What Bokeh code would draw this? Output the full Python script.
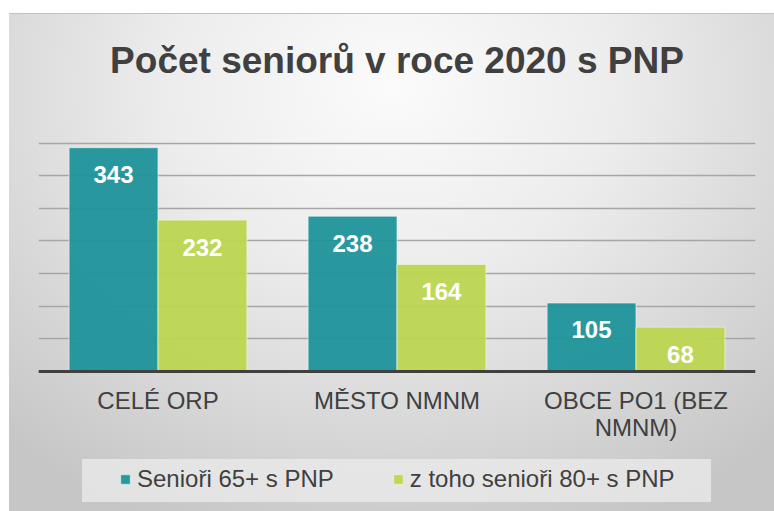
from bokeh.plotting import figure
from bokeh.models import (ColumnDataSource, LabelSet, Legend, LegendItem, FixedTicker,
                          Span, Range1d)
from bokeh.core.properties import value
from bokeh.transform import dodge
from bokeh.embed import file_html
from bokeh.resources import INLINE

categories = ["CELÉ ORP", "MĚSTO NMNM", "OBCE PO1 (BEZ\nNMNM)"]
seniors65 = [343, 238, 105]
seniors80 = [232, 164, 68]
series_names = ["Senioři 65+ s PNP", "z toho senioři 80+ s PNP"]
grid_ticks = [0, 50, 100, 150, 200, 250, 300, 350, 400]

TEAL = "#1f939a"
LIME = "#bcd650"
TXT = "#404040"
FONT = "Liberation Sans"

line1 = [c.split("\n")[0] for c in categories]
line2 = [c.split("\n")[1] if "\n" in c else "" for c in categories]

src = ColumnDataSource(dict(cat=categories, s65=seniors65, s80=seniors80,
                            base=[0] * len(categories), line1=line1, line2=line2,
                            l65=[str(v) for v in seniors65], l80=[str(v) for v in seniors80]))

p = figure(width=774, height=511, x_range=categories, y_range=Range1d(-207, 400),
           output_backend="svg", toolbar_location=None,
           x_axis_location=None, y_axis_location=None,
           min_border_left=38, min_border_right=19, min_border_top=110, min_border_bottom=5,
           title="Počet seniorů v roce 2020 s PNP")

p.border_fill_alpha = 0
p.background_fill_alpha = 0
p.outline_line_color = None
p.styles = {
    "background": ("linear-gradient(#c2c2c2, #c2c2c2) 9px 13px / 765px 1px no-repeat, "
                   "linear-gradient(rgba(236,236,236,0.75), rgba(236,236,236,0.75)) 82px 459px / 629px 43px no-repeat, "
                   "radial-gradient(ellipse 75% 95% at 50% 15%, #fbfbfb 0%, #ececec 40%, "
                   "#d6d6d6 75%, #c6c6c6 100%) 9px 13px / 765px 498px no-repeat, #ffffff")
}

p.title.align = "center"
p.title.text_font = FONT
p.title.text_font_style = "bold"
p.title.text_font_size = "37px"
p.title.text_color = TXT
p.title.standoff = 60

r1 = p.vbar(x=dodge("cat", -0.186, range=p.x_range), top="s65", width=0.372, source=src,
            fill_color=TEAL, fill_alpha=0.95, line_color="#e6f2f2", line_alpha=0.7, line_width=1)
r2 = p.vbar(x=dodge("cat", 0.186, range=p.x_range), top="s80", width=0.372, source=src,
            fill_color=LIME, fill_alpha=0.95, line_color="#f0f6e0", line_alpha=0.7, line_width=1)

for field, top, off in (("l65", "s65", -0.186), ("l80", "s80", 0.186)):
    p.add_layout(LabelSet(x=dodge("cat", off, range=p.x_range), y=top, text=field, source=src,
                          y_offset=-27, text_align="center", text_baseline="middle",
                          text_color="white", text_font=value(FONT), text_font_style="bold",
                          text_font_size="24px"))

# category labels under the baseline (two centred lines)
for field, yoff in (("line1", -16), ("line2", -43)):
    p.add_layout(LabelSet(x="cat", y="base", text=field, source=src, y_offset=yoff,
                          text_align="center", text_baseline="top", text_color=TXT,
                          text_font=value(FONT), text_font_size="24px"))

p.xgrid.grid_line_color = None
p.ygrid.ticker = FixedTicker(ticks=grid_ticks)
p.ygrid.grid_line_color = "#a6a6a6"
p.ygrid.grid_line_width = 1.3

p.add_layout(Span(location=0, dimension="width", line_color=TXT, line_width=3))
p.x_range.range_padding = 0

legend = Legend(items=[LegendItem(label=series_names[0], renderers=[r1]),
                       LegendItem(label=series_names[1], renderers=[r2])],
                orientation="horizontal", location=(81, 13),
                label_text_font=FONT, label_text_font_size="24px", label_text_color=TXT,
                glyph_width=12, glyph_height=12, label_standoff=6, spacing=58,
                margin=0, padding=8, background_fill_alpha=0,
                border_line_color=None)
p.add_layout(legend)

open("out.html", "w").write(file_html(p, INLINE))
